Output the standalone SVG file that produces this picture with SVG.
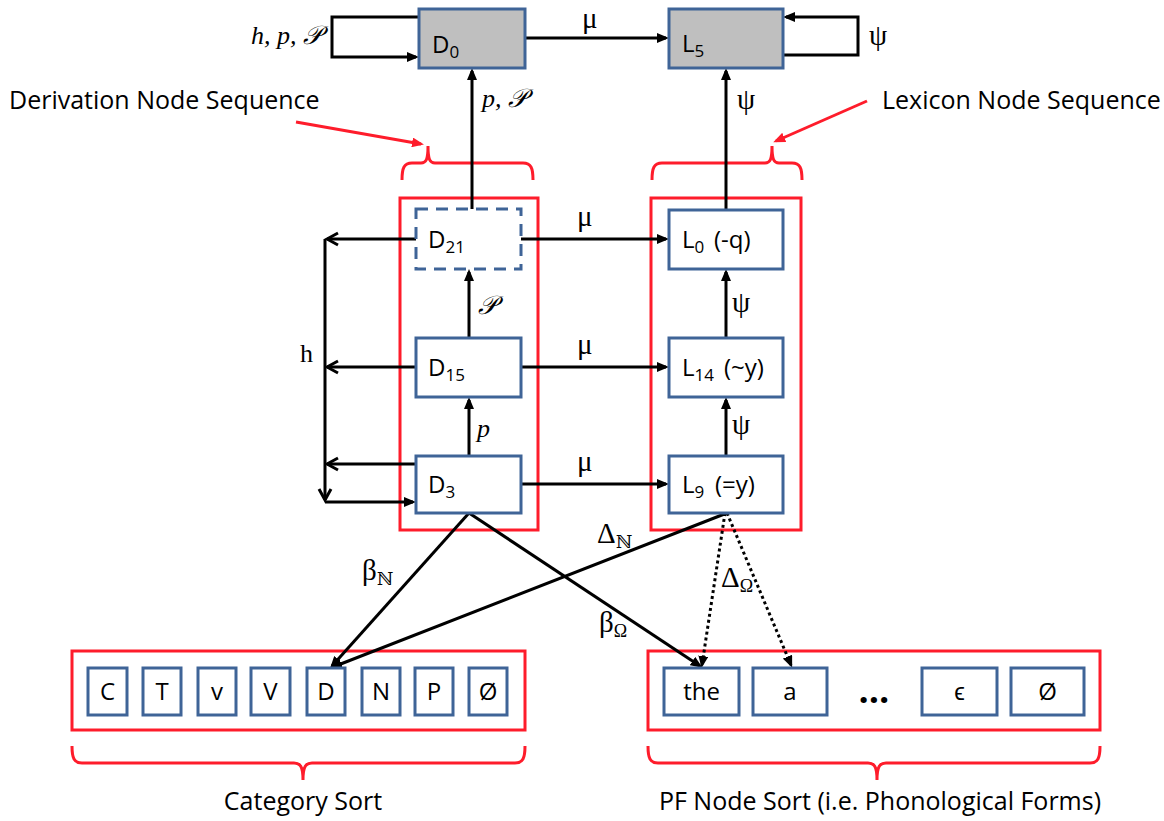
<svg xmlns="http://www.w3.org/2000/svg" width="1164" height="821" viewBox="0 0 1164 821">
<style>
.node{fill:#fff;stroke:#3f6497;stroke-width:3}
.gray{fill:#bfbfbf}
.dash{stroke-dasharray:12 8}
.red{fill:none;stroke:#fe1c2b;stroke-width:3}
.lbl{font-family:"Open Sans","Liberation Sans",sans-serif;font-size:24px;fill:#000}
.sub{font-size:17px}
.big{font-family:"Open Sans","Liberation Sans",sans-serif;font-size:25px;fill:#000}
.math{font-family:"Liberation Serif","DejaVu Serif",serif;font-size:26px;fill:#000}
.gk{font-size:29px}
.it{font-style:italic}
.ar{fill:none;stroke:#000;stroke-width:3;marker-end:url(#ah)}
.open{fill:none;stroke:#000;stroke-width:3;marker-end:url(#oh)}
.dot{fill:none;stroke:#000;stroke-width:3;stroke-dasharray:3 3;marker-end:url(#ah)}
.rar{fill:none;stroke:#fe1c2b;stroke-width:3;marker-end:url(#rh)}
</style>
<defs>
<marker id="ah" viewBox="0 0 12 10" refX="9" refY="5" markerWidth="12" markerHeight="10" orient="auto" markerUnits="userSpaceOnUse"><path d="M0,0 L12,5 L0,10 z" fill="#000"/></marker>
<marker id="oh" viewBox="-2 -2 16 16" refX="11" refY="6" markerWidth="16" markerHeight="16" orient="auto" markerUnits="userSpaceOnUse"><path d="M0,0 L11,6 L0,12" fill="none" stroke="#000" stroke-width="3"/></marker>
<marker id="rh" viewBox="0 0 12 10" refX="9" refY="5" markerWidth="12" markerHeight="10" orient="auto" markerUnits="userSpaceOnUse"><path d="M0,0 L12,5 L0,10 z" fill="#fe1c2b"/></marker>
</defs>
<rect width="1164" height="821" fill="#fff"/>

<g id="annotations">
<text class="big" x="9" y="109">Derivation Node Sequence</text>
<text class="big" x="882" y="109">Lexicon Node Sequence</text>
<path class="rar" d="M296,122 L421,144"/>
<path class="rar" d="M867,101 L776,141"/>
<path class="red" d="M402,180 C402,168 404,163 412,163 L421,163 C426,163 428,160 428,146 C428,160 430,163 435,163 L523,163 C531,163 533,168 533,180"/>
<path class="red" d="M652,180 C652,168 654,163 662,163 L765,163 C770,163 772,160 772,146 C772,160 774,163 779,163 L792,163 C800,163 802,168 802,180"/>
<path class="red" d="M72,746 C72,758 74,763 82,763 L294,763 C300,763 303,766 303,780 C303,766 306,763 312,763 L515,763 C523,763 525,758 525,746"/>
<path class="red" d="M648,746 C648,758 650,763 658,763 L868,763 C874,763 877,766 877,780 C877,766 880,763 886,763 L1090,763 C1098,763 1100,758 1100,746"/>
<text class="big" x="303" y="810" text-anchor="middle">Category Sort</text>
<text class="big" x="880" y="810" text-anchor="middle">PF Node Sort (i.e. Phonological Forms)</text>
</g>

<g id="containers">
<rect id="derivation-seq" class="red" x="400" y="198" width="138" height="332"/>
<rect id="lexicon-seq" class="red" x="651" y="198" width="150" height="332"/>
<rect id="category-sort" class="red" x="72" y="651" width="453" height="79"/>
<rect id="pf-sort" class="red" x="648" y="651" width="452" height="79"/>
</g>

<g id="connectors">
<path class="ar" d="M419,17 H332 V57 H416"/>
<path class="ar" d="M783,55 H858 V17 H786"/>
<path class="ar" d="M525,38 H666"/>
<path class="ar" d="M472,209 V71"/>
<path class="ar" d="M726,210 V71"/>
<path class="ar" d="M521,239 H666"/>
<path class="ar" d="M521,367 H666"/>
<path class="ar" d="M521,484 H666"/>
<path class="ar" d="M469,338 V272"/>
<path class="ar" d="M469,456 V400"/>
<path class="ar" d="M726,338 V272"/>
<path class="ar" d="M726,456 V400"/>
<path class="open" d="M416,239 H327"/>
<path class="open" d="M416,367 H327"/>
<path class="open" d="M416,464 H327"/>
<path class="open" d="M325,239 V500"/>
<path class="ar" d="M325,502 H413"/>
<path class="ar" d="M469,513 L332,666"/>
<path class="ar" d="M469,513 L700,666"/>
<path class="ar" d="M727,513 L333,667"/>
<path class="dot" d="M725,513 L702,665"/>
<path class="dot" d="M727,513 L791,665"/>
</g>

<g id="edge-labels">
<text class="math it" x="322" y="44" text-anchor="end">h, p, 𝒫</text>
<text class="math gk" x="582" y="28">μ</text>
<text class="math gk" x="869" y="45">ψ</text>
<text class="math it" x="482" y="107">p, 𝒫</text>
<text class="math gk" x="737" y="109">ψ</text>
<text class="math gk" x="577" y="226">μ</text>
<text class="math gk" x="577" y="354">μ</text>
<text class="math gk" x="577" y="471">μ</text>
<text class="math it" x="478" y="314">𝒫</text>
<text class="math it" x="477" y="437">p</text>
<text class="math gk" x="732" y="312">ψ</text>
<text class="math gk" x="732" y="434">ψ</text>
<text class="math" x="300" y="362">h</text>
<text class="math gk" x="362" y="580">β<tspan font-size="18" dy="5">ℕ</tspan></text>
<text class="math gk" x="597" y="543">Δ<tspan font-size="18" dy="5">ℕ</tspan></text>
<text class="math gk" x="599" y="632">β<tspan font-size="18" dy="5">Ω</tspan></text>
<text class="math gk" x="721" y="587">Δ<tspan font-size="18" dy="5">Ω</tspan></text>
</g>

<g id="D0"><rect class="node gray" x="419" y="9" width="106" height="59"/><text class="lbl" x="432" y="53">D<tspan class="sub" dy="5">0</tspan></text></g>
<g id="L5"><rect class="node gray" x="669" y="9" width="114" height="59"/><text class="lbl" x="682" y="52">L<tspan class="sub" dy="5">5</tspan></text></g>
<g id="D21"><rect class="node dash" x="416" y="209" width="105" height="60"/><text class="lbl" x="428" y="248">D<tspan class="sub" dy="5">21</tspan></text></g>
<g id="D15"><rect class="node" x="416" y="338" width="105" height="59"/><text class="lbl" x="428" y="376">D<tspan class="sub" dy="5">15</tspan></text></g>
<g id="D3"><rect class="node" x="416" y="456" width="105" height="57"/><text class="lbl" x="428" y="493">D<tspan class="sub" dy="5">3</tspan></text></g>
<g id="L0"><rect class="node" x="669" y="210" width="114" height="59"/><text class="lbl" x="682" y="248">L<tspan class="sub" dy="5">0</tspan><tspan x="714" dy="-5">(-q)</tspan></text></g>
<g id="L14"><rect class="node" x="669" y="338" width="114" height="59"/><text class="lbl" x="682" y="376">L<tspan class="sub" dy="5">14</tspan><tspan x="724" dy="-5">(~y)</tspan></text></g>
<g id="L9"><rect class="node" x="669" y="456" width="114" height="57"/><text class="lbl" x="682" y="493">L<tspan class="sub" dy="5">9</tspan><tspan x="715" dy="-5">(=y)</tspan></text></g>

<g id="cat-C"><rect class="node" x="88" y="668" width="39" height="47"/><text class="lbl" x="107.5" y="700" text-anchor="middle">C</text></g>
<g id="cat-T"><rect class="node" x="143" y="668" width="38" height="47"/><text class="lbl" x="162" y="700" text-anchor="middle">T</text></g>
<g id="cat-v"><rect class="node" x="198" y="668" width="38" height="47"/><text class="lbl" x="217" y="700" text-anchor="middle">v</text></g>
<g id="cat-V"><rect class="node" x="251" y="668" width="39" height="47"/><text class="lbl" x="270.5" y="700" text-anchor="middle">V</text></g>
<g id="cat-D"><rect class="node" x="307" y="668" width="38" height="47"/><text class="lbl" x="326" y="700" text-anchor="middle">D</text></g>
<g id="cat-N"><rect class="node" x="362" y="668" width="38" height="47"/><text class="lbl" x="381" y="700" text-anchor="middle">N</text></g>
<g id="cat-P"><rect class="node" x="415" y="668" width="38" height="47"/><text class="lbl" x="434" y="700" text-anchor="middle">P</text></g>
<g id="cat-empty"><rect class="node" x="469" y="668" width="38" height="47"/><text class="lbl" x="488" y="700" text-anchor="middle">Ø</text></g>

<g id="pf-the"><rect class="node" x="664" y="668" width="75" height="47"/><text class="lbl" x="701.5" y="700" text-anchor="middle">the</text></g>
<g id="pf-a"><rect class="node" x="753" y="668" width="74" height="47"/><text class="lbl" x="790" y="700" text-anchor="middle">a</text></g>
<g id="pf-ellipsis"><text class="lbl" x="874" y="703" text-anchor="middle" style="font-size:36px;font-weight:bold">…</text></g>
<g id="pf-eps"><rect class="node" x="922" y="668" width="75" height="47"/><text class="lbl" x="959.5" y="700" text-anchor="middle">ϵ</text></g>
<g id="pf-empty"><rect class="node" x="1011" y="668" width="73" height="47"/><text class="lbl" x="1047.5" y="700" text-anchor="middle">Ø</text></g>
</svg>
